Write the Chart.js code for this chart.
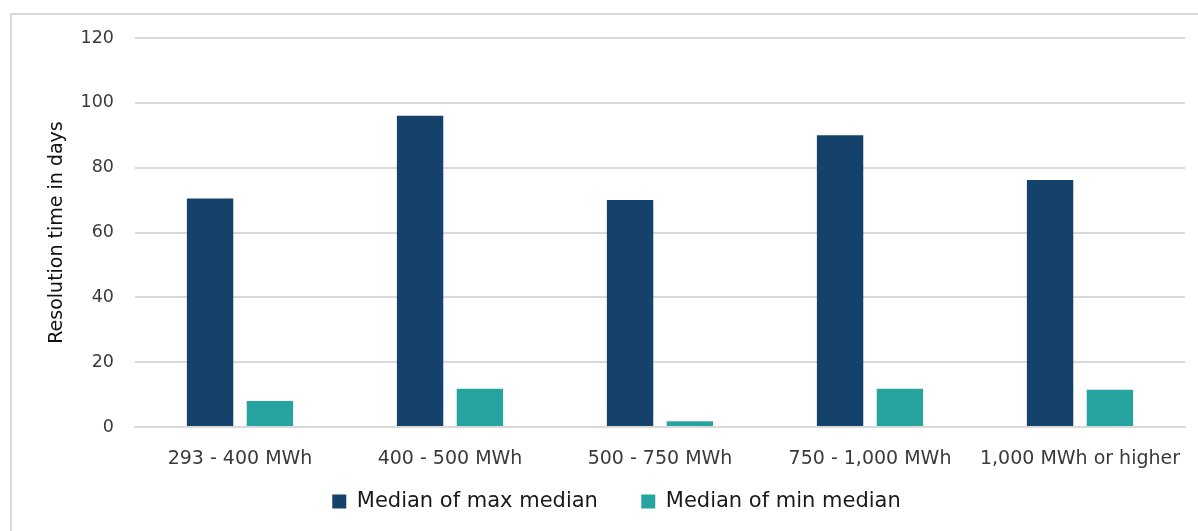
<!DOCTYPE html>
<html>
<head>
<meta charset="utf-8">
<title>Resolution time by size</title>
<script src="https://cdn.jsdelivr.net/npm/chart.js@4/dist/chart.umd.min.js"></script>
<style>
  html, body { margin: 0; padding: 0; background: #fff; overflow: hidden; }
  #wrap { position: relative; width: 1198px; height: 531px; }
  canvas { position: absolute; left: 0; top: 0; }
  #frame {
    position: absolute; left: 10px; top: 13px; width: 1200px; height: 530px;
    border: 2px solid #d9d9d9; box-sizing: border-box; pointer-events: none; z-index: 2;
  }
</style>
</head>
<body>
<div id="wrap">
  <canvas id="canvas" width="1198" height="531"></canvas>
  <div id="frame"></div>
</div>
<script>
const categories = [
  "293 - 400 MWh",
  "400 - 500 MWh",
  "500 - 750 MWh",
  "750 - 1,000 MWh",
  "1,000 MWh or higher",
];
const maxMedian = [70.5, 96, 70, 90, 76.2];
const minMedian = [8, 11.8, 1.8, 11.8, 11.5];
const yTicks = [0, 20, 40, 60, 80, 100, 120];

const FONT = "'DejaVu Sans', sans-serif";

const ctx = document.getElementById("canvas");

const chart = new Chart(ctx, {
  type: "bar",
  data: {
    labels: categories,
    datasets: [
      {
        label: "Median of max median",
        data: maxMedian,
        backgroundColor: "#14426b",
        categoryPercentage: 0.57,
        barPercentage: 0.775,
      },
      {
        label: "Median of min median",
        data: minMedian,
        backgroundColor: "#28a4a0",
        categoryPercentage: 0.57,
        barPercentage: 0.775,
      },
    ],
  },
  options: {
    responsive: false,
    animation: false,
    layout: {
      padding: { left: 48, right: 13, top: 38, bottom: 9 },
    },
    plugins: {
      legend: {
        position: "bottom",
        labels: {
          boxWidth: 14,
          boxHeight: 14,
          padding: 10,
          color: "#1a1a1a",
          font: { family: FONT, size: 21 },
          // wider gap between the two entries without making the legend taller
          generateLabels: (c) => {
            const items = Chart.defaults.plugins.legend.labels.generateLabels(c);
            items.forEach((it, i) => {
              if (i < items.length - 1) it.text += "     ";
            });
            return items;
          },
        },
      },
      tooltip: { enabled: false },
    },
    scales: {
      x: {
        grid: { display: false, drawTicks: false },
        border: { display: true, color: "#d9d9d9", width: 2 },
        ticks: {
          color: "#3a3a3a",
          padding: 21,
          maxRotation: 0,
          font: { family: FONT, size: 19 },
        },
        afterFit: (scale) => {
          scale.height = 54;
          scale.paddingLeft = 0;
          scale.paddingRight = 0;
        },
      },
      y: {
        min: 0,
        max: 120,
        afterBuildTicks: (scale) => {
          scale.ticks = yTicks.map((v) => ({ value: v }));
        },
        grid: { color: "#d9d9d9", lineWidth: 2, drawTicks: false },
        border: { display: false },
        ticks: {
          color: "#3a3a3a",
          padding: 21,
          font: { family: FONT, size: 17.5 },
        },
        title: {
          display: true,
          text: "Resolution time in days",
          color: "#111",
          padding: { top: -2, bottom: 0 },
          font: { family: FONT, size: 19 },
        },
        afterFit: (scale) => {
          scale.width = 87;
        },
      },
    },
  },
});
</script>
</body>
</html>
